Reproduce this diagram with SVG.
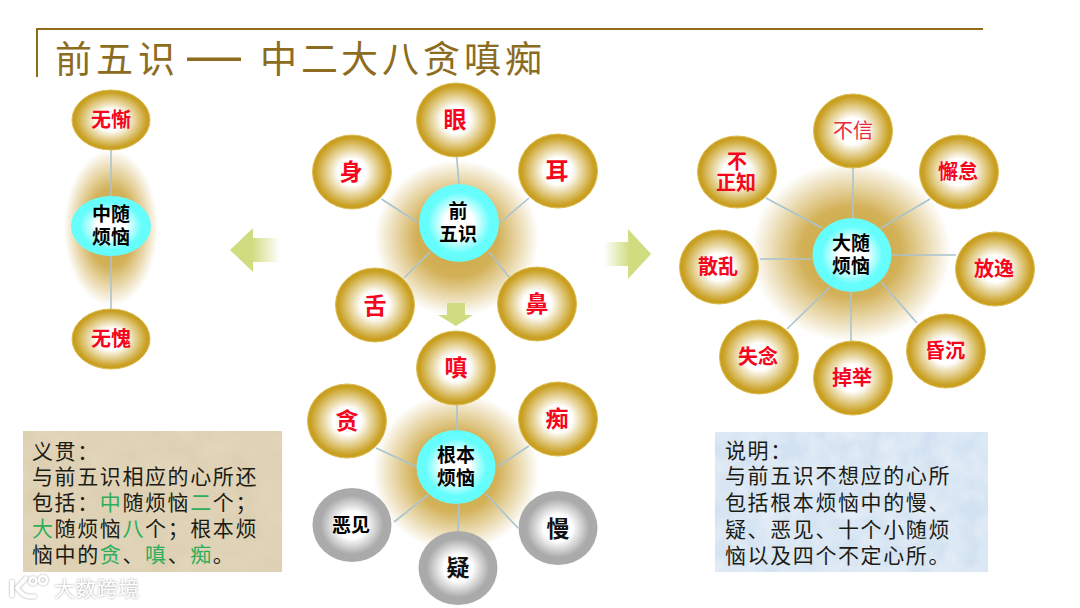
<svg xmlns="http://www.w3.org/2000/svg" width="1080" height="608" viewBox="0 0 1080 608">
<style>
text{font-family:"Noto Sans CJK SC","Noto Sans",sans-serif}
.g{fill:url(#gold);stroke:#dcbc50;stroke-width:1}
.s{fill:url(#silver)}
.c{fill:url(#cyan)}
.h{fill:url(#halo)}
.r{fill:#f5061c;font-weight:700;font-size:20px;text-anchor:middle}
.r1{fill:#f5061c;font-weight:700;font-size:23px;text-anchor:middle}
.k{fill:#000;font-weight:700;font-size:19px;text-anchor:middle}
.k1{fill:#111;font-weight:700;font-size:23px;text-anchor:middle}
.t{fill:#1c1c14;font-size:21px;letter-spacing:1.6px}
.gr{fill:#2ead5b}
#connectors line{stroke:#a9c3cf;stroke-width:1.6}
</style>
<defs>
<radialGradient id="gold"><stop offset="0" stop-color="#fff"/><stop offset=".36" stop-color="#fff"/><stop offset=".92" stop-color="#c9a022"/><stop offset="1" stop-color="#c89e20"/></radialGradient>
<radialGradient id="silver"><stop offset="0" stop-color="#fff"/><stop offset=".36" stop-color="#fff"/><stop offset=".8" stop-color="#aaa"/><stop offset="1" stop-color="#aaa"/></radialGradient>
<radialGradient id="cyan"><stop offset="0" stop-color="#fff"/><stop offset=".36" stop-color="#fff"/><stop offset=".78" stop-color="#66fdfd"/><stop offset="1" stop-color="#66fdfd"/></radialGradient>
<radialGradient id="halo"><stop offset="0" stop-color="#cba63e"/><stop offset=".5" stop-color="#d3b158"/><stop offset="1" stop-color="#d3b158" stop-opacity="0"/></radialGradient>
<linearGradient id="al" gradientUnits="userSpaceOnUse" x1="252" y1="0" x2="280" y2="0"><stop offset="0" stop-color="#d0dc80"/><stop offset="1" stop-color="#d0dc80" stop-opacity="0"/></linearGradient>
<linearGradient id="ar" gradientUnits="userSpaceOnUse" x1="630" y1="0" x2="604" y2="0"><stop offset="0" stop-color="#d0dc80"/><stop offset="1" stop-color="#d0dc80" stop-opacity="0"/></linearGradient>
<filter id="paper" x="0" y="0" width="100%" height="100%"><feTurbulence type="fractalNoise" baseFrequency=".035" numOctaves="4" seed="7"/><feColorMatrix values="0 0 0 0 .62  0 0 0 0 .52  0 0 0 0 .33  .55 0 0 0 -.13"/><feComposite in2="SourceGraphic" operator="in" result="n"/><feMerge><feMergeNode in="SourceGraphic"/><feMergeNode in="n"/></feMerge></filter>
<filter id="sky" x="0" y="0" width="100%" height="100%"><feTurbulence type="fractalNoise" baseFrequency=".05" numOctaves="3" seed="3"/><feColorMatrix values="0 0 0 0 1  0 0 0 0 1  0 0 0 0 1  .6 0 0 0 -.15"/><feComposite in2="SourceGraphic" operator="in" result="n"/><feMerge><feMergeNode in="SourceGraphic"/><feMergeNode in="n"/></feMerge></filter>
<filter id="wm" x="-10%" y="-20%" width="120%" height="140%"><feDropShadow dx="0" dy="0" stdDeviation="1" flood-color="#9a9a9a"/></filter>
</defs>
<rect width="1080" height="608" fill="#fff"/>

<g id="title-frame"><path d="M37 77V29H983" fill="none" stroke="#8f6d14" stroke-width="2"/>
<text y="73" font-size="37" fill="#8c6c1e"><tspan x="55">前</tspan><tspan x="96">五</tspan><tspan x="138">识</tspan><tspan x="187" font-size="54" font-family="Liberation Sans">—</tspan><tspan x="260">中</tspan><tspan x="301">二</tspan><tspan x="341">大</tspan><tspan x="382">八</tspan><tspan x="423">贪</tspan><tspan x="464">嗔</tspan><tspan x="505">痴</tspan></text></g>

<g id="halos"><ellipse class="h" cx="111" cy="228" rx="47" ry="78"/><ellipse class="h" cx="457" cy="238" rx="82" ry="78"/><ellipse class="h" cx="456" cy="472" rx="83" ry="79"/><ellipse class="h" cx="851" cy="252" rx="100" ry="90"/></g>

<g id="connectors">
<line x1="111" y1="150" x2="111" y2="196"/><line x1="111" y1="256" x2="111" y2="309"/>
<line x1="456.500" y1="155" x2="459" y2="184"/><line x1="381.500" y1="199" x2="417" y2="222"/><line x1="529" y1="198" x2="501" y2="222"/><line x1="404" y1="278" x2="430" y2="252"/><line x1="509" y1="277" x2="489" y2="252"/>
<line x1="457" y1="405" x2="457" y2="430"/><line x1="376" y1="448" x2="417" y2="467"/><line x1="529" y1="446" x2="497" y2="467"/><line x1="394" y1="522" x2="428" y2="495"/><line x1="518" y1="528" x2="486" y2="494"/><line x1="458" y1="532" x2="459" y2="505"/>
<line x1="853" y1="168" x2="853" y2="218"/><line x1="930" y1="199" x2="881" y2="228"/><line x1="956" y1="255" x2="892" y2="255"/><line x1="917" y1="323" x2="881" y2="282"/><line x1="851" y1="342" x2="851" y2="292"/><line x1="787" y1="329" x2="830" y2="287"/><line x1="760" y1="259" x2="812" y2="259"/><line x1="766" y1="198" x2="822" y2="228"/>
</g>

<g id="arrows"><path d="M230 250L253 228V238H280V262H253V272Z" fill="url(#al)"/><path d="M651 254L628 229V242H604V266H628V279Z" fill="url(#ar)"/><path d="M447 303H465V315H473L456 326L438 315H447Z" fill="#d0dc80"/></g>

<g id="n-wucan"><ellipse class="g" cx="111" cy="120" rx="39" ry="30"/><text class="r" x="111" y="127">无惭</text></g>
<g id="n-zhong"><ellipse class="c" cx="111" cy="226" rx="40" ry="30"/><text class="k" x="111" y="221">中随<tspan x="111" dy="23">烦恼</tspan></text></g>
<g id="n-wukui"><ellipse class="g" cx="111" cy="339" rx="39" ry="30"/><text class="r" x="111" y="346">无愧</text></g>

<g id="n-yan"><ellipse class="g" cx="456" cy="120" rx="39.500" ry="37"/><text class="r1" x="455" y="128">眼</text></g>
<g id="n-shen"><ellipse class="g" cx="352" cy="172" rx="39.500" ry="37"/><text class="r1" x="351" y="180">身</text></g>
<g id="n-er"><ellipse class="g" cx="558" cy="171" rx="39.500" ry="37"/><text class="r1" x="557" y="179">耳</text></g>
<g id="n-she"><ellipse class="g" cx="375" cy="305" rx="39.500" ry="37"/><text class="r1" x="375" y="314">舌</text></g>
<g id="n-bi"><ellipse class="g" cx="537" cy="304" rx="39.500" ry="37"/><text class="r1" x="537" y="312">鼻</text></g>
<g id="n-qian"><ellipse class="c" cx="459" cy="223" rx="40" ry="39"/><text class="k" x="458" y="218">前<tspan x="458" dy="23">五识</tspan></text></g>

<g id="n-chen"><ellipse class="g" cx="456" cy="368" rx="39.500" ry="37"/><text class="r1" x="456" y="376">嗔</text></g>
<g id="n-tan"><ellipse class="g" cx="347" cy="421" rx="39.500" ry="37"/><text class="r1" x="347" y="429">贪</text></g>
<g id="n-chi"><ellipse class="g" cx="558" cy="419" rx="39.500" ry="37"/><text class="r1" x="557" y="427">痴</text></g>
<g id="n-ejian"><ellipse class="s" cx="352" cy="525" rx="39.500" ry="37"/><text class="k" x="351" y="532">恶见</text></g>
<g id="n-man"><ellipse class="s" cx="558" cy="528" rx="39.500" ry="37"/><text class="k1" x="558" y="537">慢</text></g>
<g id="n-yi"><ellipse class="s" cx="458" cy="568" rx="39.500" ry="37"/><text class="k1" x="458" y="576">疑</text></g>
<g id="n-genben"><ellipse class="c" cx="456" cy="467" rx="39.500" ry="37"/><text class="k" x="456" y="462">根本<tspan x="456" dy="23">烦恼</tspan></text></g>

<g id="n-buxin"><ellipse class="g" cx="853" cy="131" rx="39.500" ry="37"/><text x="853" y="138" font-size="20" fill="#ea2a3c" text-anchor="middle">不信</text></g>
<g id="n-xiedai"><ellipse class="g" cx="959" cy="172" rx="39.500" ry="37"/><text class="r" x="958" y="179">懈怠</text></g>
<g id="n-fangyi"><ellipse class="g" cx="995" cy="269" rx="39.500" ry="37"/><text class="r" x="994" y="276">放逸</text></g>
<g id="n-hunchen"><ellipse class="g" cx="946" cy="351" rx="39.500" ry="37"/><text class="r" x="945" y="358">昏沉</text></g>
<g id="n-diaoju"><ellipse class="g" cx="853" cy="378" rx="39.500" ry="37"/><text class="r" x="852" y="385">掉举</text></g>
<g id="n-shinian"><ellipse class="g" cx="759" cy="357" rx="39.500" ry="37"/><text class="r" x="758" y="364">失念</text></g>
<g id="n-sanluan"><ellipse class="g" cx="719" cy="267" rx="39.500" ry="37"/><text class="r" x="718" y="274">散乱</text></g>
<g id="n-buzhengzhi"><ellipse class="g" cx="737" cy="172" rx="39.500" ry="36"/><text class="r" x="737" y="169">不<tspan x="736" dy="21">正知</tspan></text></g>
<g id="n-dasui"><ellipse class="c" cx="852" cy="255" rx="39.500" ry="37"/><text class="k" x="851" y="250">大随<tspan x="851" dy="23">烦恼</tspan></text></g>

<g id="note-left"><rect x="23" y="431" width="259" height="141" fill="#e2d5ba" filter="url(#paper)"/>
<text class="t" x="32" y="459">义贯：<tspan x="32" y="484">与前五识相应的心所还</tspan><tspan x="32" y="510">包括：<tspan class="gr">中</tspan>随烦恼<tspan class="gr">二</tspan>个；</tspan><tspan x="32" y="536"><tspan class="gr">大</tspan>随烦恼<tspan class="gr">八</tspan>个；根本烦</tspan><tspan x="32" y="562">恼中的<tspan class="gr">贪</tspan>、<tspan class="gr">嗔</tspan>、<tspan class="gr">痴</tspan>。</tspan></text></g>

<g id="note-right"><rect x="715" y="432" width="273" height="140" fill="#d3e2f2" filter="url(#sky)"/>
<text class="t" x="725" y="458">说明：<tspan x="725" y="483">与前五识不想应的心所</tspan><tspan x="725" y="510">包括根本烦恼中的慢、</tspan><tspan x="725" y="537">疑、恶见、十个小随烦</tspan><tspan x="725" y="563">恼以及四个不定心所。</tspan></text></g>

<g id="watermark" filter="url(#wm)"><g fill="none" stroke="#fff" stroke-width="4"><path d="M12 580V597"/><path d="M27 577L17 588Q24 599 36 596"/><circle cx="33" cy="581" r="3.500" stroke-width="2.500"/><circle cx="43" cy="580" r="4" stroke-width="2.500"/></g>
<text x="54" y="596" font-size="21" fill="#fff" letter-spacing=".4">大数跨境</text></g>
</svg>
